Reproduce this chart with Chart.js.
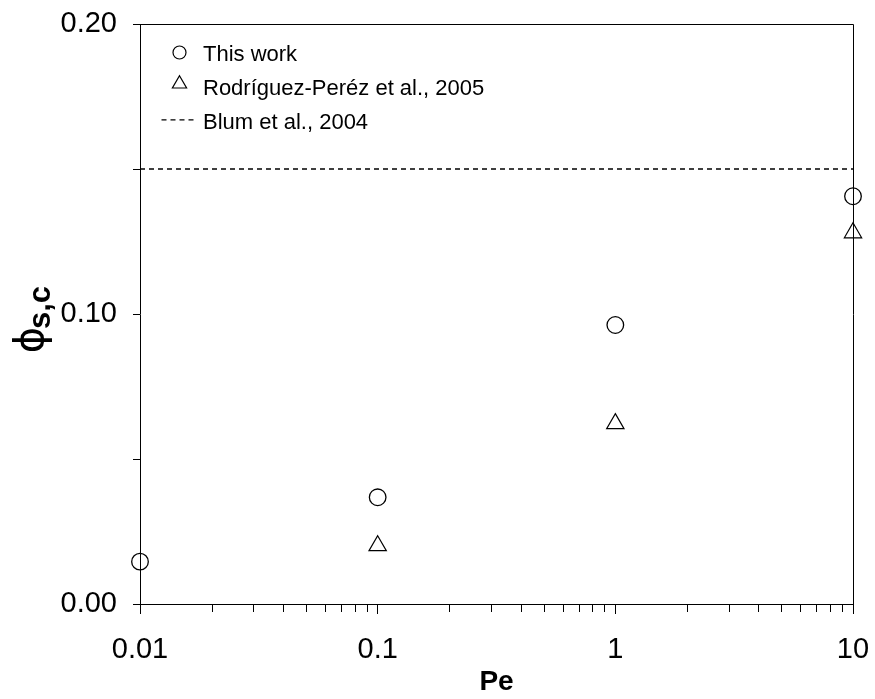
<!DOCTYPE html>
<html>
<head>
<meta charset="utf-8">
<script src="https://cdn.jsdelivr.net/npm/chart.js@4.4.1/dist/chart.umd.min.js"></script>
<style>
  html, body { margin: 0; padding: 0; background: #fff; }
  #wrap { width: 875px; height: 699px; position: relative; }
</style>
</head>
<body>
<div id="wrap"><canvas id="c"></canvas></div>
<script>
// Peclet numbers and critical solid fractions
const peValues = [0.01, 0.1, 1, 10];
const thisWork = [0.0146, 0.0368, 0.0962, 0.1406];
const rodriguezPe = [0.1, 1, 10];
const rodriguez = [0.0201, 0.0622, 0.128];
const blumPe = [0.01, 10];
const blumLevel = 0.15;
const seriesNames = ['This work', 'Rodríguez-Peréz et al., 2005', 'Blum et al., 2004'];

// Axis ticks
const xTickValues = [0.01, 0.1, 1, 10];
const xTickLabels = ['0.01', '0.1', '1', '10'];
const xMinorFactors = [2, 3, 4, 5, 6, 7, 8, 9];
const yTickValues = [0, 0.05, 0.1, 0.15, 0.2];
const yTickLabels = ['0.00', '', '0.10', '', '0.20'];
const xTitle = 'Pe';
const yTitleMain = '\u03D5';
const yTitleSub = 's,c';

const INK = '#000';
Chart.defaults.font.family = '"Liberation Sans", Arial, sans-serif';
Chart.defaults.color = INK;

function noOverflow(scale) {
  scale.paddingTop = 0;
  scale.paddingBottom = 0;
  scale.paddingLeft = 0;
  scale.paddingRight = 0;
}

// frame, minor ticks, y title, legend
const decorations = {
  id: 'decorations',
  afterDraw(chart) {
    const ctx = chart.ctx;
    const a = chart.chartArea;
    const xs = chart.scales.x;
    ctx.save();
    ctx.strokeStyle = INK;
    ctx.lineWidth = 1;
    // top and right edges of the box
    ctx.beginPath();
    ctx.moveTo(Math.round(a.left) + 0.5, Math.round(a.top) + 0.5);
    ctx.lineTo(Math.round(a.right) + 0.5, Math.round(a.top) + 0.5);
    ctx.lineTo(Math.round(a.right) + 0.5, Math.round(a.bottom) + 0.5);
    ctx.stroke();
    // minor log ticks under the x axis
    ctx.beginPath();
    for (let d = 0; d < xTickValues.length - 1; d++) {
      for (const f of xMinorFactors) {
        const px = Math.round(xs.getPixelForValue(xTickValues[d] * f)) + 0.5;
        ctx.moveTo(px, Math.round(a.bottom));
        ctx.lineTo(px, Math.round(a.bottom) + 8);
      }
    }
    ctx.stroke();

    // y axis title: phi with subscript, rotated
    ctx.save();
    ctx.rotate(-Math.PI / 2);
    ctx.fillStyle = INK;
    ctx.textBaseline = 'alphabetic';
    ctx.textAlign = 'center';
    ctx.font = '40px "DejaVu Sans"';
    ctx.fillText(yTitleMain, -340, 43);
    ctx.textAlign = 'left';
    ctx.font = 'bold 31px "Liberation Sans", Arial, sans-serif';
    ctx.fillText(yTitleSub, -329, 50);
    ctx.restore();

    // legend inside the plot area
    const markerX = a.left + 39.5;
    const textX = a.left + 63;
    ctx.font = '22px "Liberation Sans", Arial, sans-serif';
    ctx.textAlign = 'left';
    ctx.textBaseline = 'alphabetic';
    chart.data.datasets.forEach((ds, i) => {
      const base = a.top + 36.5 + i * 34.2;
      ctx.strokeStyle = INK;
      ctx.fillStyle = 'rgba(0,0,0,0)';
      ctx.lineWidth = 1.2;
      if (ds.pointStyle === 'circle') {
        Chart.helpers.drawPoint(ctx, { pointStyle: 'circle', radius: 6.5, rotation: 0, borderWidth: 1.2 }, markerX, base - 8);
      } else if (ds.pointStyle === 'triangle') {
        Chart.helpers.drawPoint(ctx, { pointStyle: 'triangle', radius: 8.2, rotation: 0, borderWidth: 1.2 }, markerX, base - 10.8);
      } else {
        ctx.save();
        ctx.lineWidth = 1.2;
        ctx.setLineDash(ds.borderDash);
        ctx.beginPath();
        ctx.moveTo(markerX - 18, base - 9);
        ctx.lineTo(markerX + 18, base - 9);
        ctx.stroke();
        ctx.restore();
      }
      ctx.fillStyle = INK;
      ctx.fillText(ds.label, textX, base);
    });
    ctx.restore();
  }
};

new Chart(document.getElementById('c'), {
  type: 'scatter',
  data: {
    datasets: [
      {
        label: seriesNames[0],
        data: peValues.map((x, i) => ({ x, y: thisWork[i] })),
        pointStyle: 'circle',
        pointRadius: 8.3,
        pointBorderWidth: 1.3,
        pointBorderColor: INK,
        pointBackgroundColor: 'rgba(0,0,0,0)',
        showLine: false,
        clip: false
      },
      {
        label: seriesNames[1],
        data: rodriguezPe.map((x, i) => ({ x, y: rodriguez[i] })),
        pointStyle: 'triangle',
        pointRadius: 10,
        pointBorderWidth: 1.2,
        pointBorderColor: INK,
        pointBackgroundColor: 'rgba(0,0,0,0)',
        showLine: false,
        clip: false
      },
      {
        label: seriesNames[2],
        data: blumPe.map(x => ({ x, y: blumLevel })),
        type: 'line',
        pointStyle: 'line',
        pointRadius: 0,
        borderColor: INK,
        borderWidth: 1.3,
        borderDash: [5, 4],
        fill: false,
        showLine: true,
        clip: false
      }
    ]
  },
  options: {
    responsive: true,
    maintainAspectRatio: false,
    animation: false,
    events: [],
    layout: { padding: { top: 24, right: 22, left: 0, bottom: 0 } },
    plugins: { legend: { display: false }, tooltip: { enabled: false } },
    scales: {
      x: {
        type: 'logarithmic',
        position: 'bottom',
        min: 0.01,
        max: 10,
        afterBuildTicks(scale) { scale.ticks = xTickValues.map(v => ({ value: v })); },
        afterFit(scale) { scale.height = 95; noOverflow(scale); },
        ticks: {
          autoSkip: false,
          maxRotation: 0,
          padding: 19,
          font: { size: 29 },
          color: INK,
          callback(value) {
            const i = xTickValues.findIndex(v => Math.abs(v - value) / v < 1e-6);
            return i >= 0 ? xTickLabels[i] : '';
          }
        },
        grid: { drawOnChartArea: false, tickLength: 10, tickColor: INK, tickWidth: 1 },
        border: { display: true, color: INK, width: 1 },
        title: { display: true, text: xTitle, font: { size: 28, weight: 'bold' }, color: INK, padding: { top: 0, bottom: 0 } }
      },
      y: {
        type: 'linear',
        min: 0,
        max: 0.2,
        afterBuildTicks(scale) { scale.ticks = yTickValues.map(v => ({ value: v })); },
        afterFit(scale) { scale.width = 140; noOverflow(scale); },
        ticks: {
          autoSkip: false,
          padding: 16,
          font: { size: 29 },
          color: INK,
          callback(value, index) { return yTickLabels[index]; }
        },
        grid: { drawOnChartArea: false, tickLength: 7, tickColor: INK, tickWidth: 1 },
        border: { display: true, color: INK, width: 1 },
        title: { display: false }
      }
    }
  },
  plugins: [decorations]
});
</script>
</body>
</html>
